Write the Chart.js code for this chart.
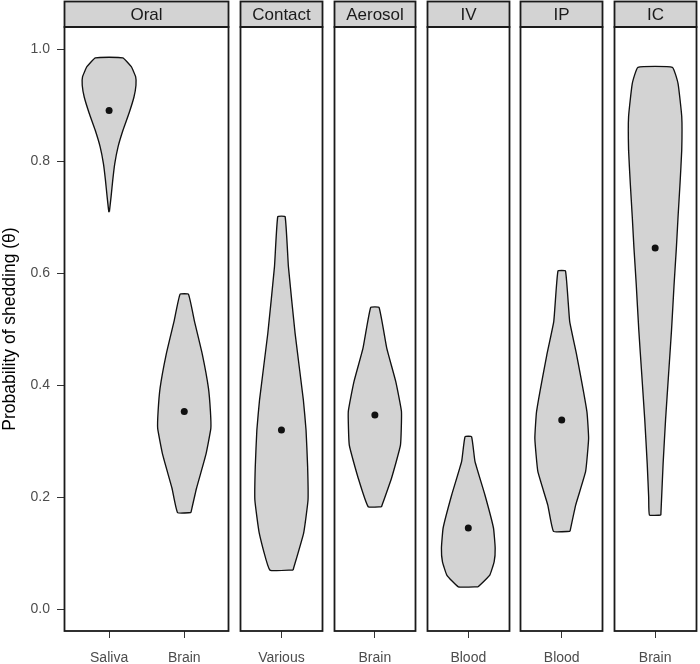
<!DOCTYPE html>
<html>
<head>
<meta charset="utf-8">
<script src="https://cdn.jsdelivr.net/npm/chart.js@4.4.1/dist/chart.umd.min.js"></script>
<style>
  body { margin: 0; background: #fff; }
  canvas { display: block; }
</style>
</head>
<body>
<canvas id="chart" width="700" height="664"></canvas>
<script>
// --- data ---
const panelNames = ['Oral', 'Contact', 'Aerosol', 'IV', 'IP', 'IC'];
const categories = ['Saliva', 'Brain', 'Various', 'Brain', 'Blood', 'Blood', 'Brain'];
const categoryPanel = [0, 0, 1, 2, 3, 4, 5];
const medians = [0.891, 0.353, 0.320, 0.347, 0.145, 0.338, 0.645];
const yTicks = [0.0, 0.2, 0.4, 0.6, 0.8, 1.0];

// violin outlines: y levels and relative width (density) at each level
const salivaY = [0.710, 0.737, 0.767, 0.796, 0.826, 0.856, 0.886, 0.915, 0.936, 0.951, 0.969, 0.985];
const salivaW = [0.011, 0.074, 0.137, 0.211, 0.333, 0.519, 0.741, 0.926, 1.000, 0.989, 0.826, 0.507];
const oralBrainY = [0.1725, 0.216, 0.276, 0.323, 0.353, 0.395, 0.454, 0.514, 0.5625];
const oralBrainW = [0.248, 0.456, 0.804, 0.989, 0.974, 0.900, 0.678, 0.381, 0.156];
const variousY = [0.070, 0.136, 0.195, 0.255, 0.320, 0.374, 0.493, 0.612, 0.701];
const variousW = [0.433, 0.826, 0.989, 0.974, 0.915, 0.815, 0.507, 0.259, 0.137];
const aerosolY = [0.183, 0.234, 0.293, 0.353, 0.4065, 0.466, 0.539];
const aerosolW = [0.248, 0.619, 0.952, 0.989, 0.778, 0.444, 0.156];
const ivY = [0.040, 0.061, 0.085, 0.109, 0.145, 0.204, 0.264, 0.308];
const ivW = [0.370, 0.800, 0.963, 1.000, 0.937, 0.619, 0.248, 0.122];
const ipY = [0.139, 0.186, 0.246, 0.305, 0.353, 0.454, 0.514, 0.604];
const ipW = [0.307, 0.519, 0.889, 1.000, 0.937, 0.556, 0.296, 0.141];
const icY = [0.168, 0.200, 0.260, 0.340, 0.420, 0.500, 0.580, 0.645, 0.701, 0.761, 0.820, 0.880, 0.939, 0.968];
const icW = [0.211, 0.241, 0.296, 0.389, 0.500, 0.611, 0.704, 0.789, 0.852, 0.926, 0.989, 0.989, 0.852, 0.641];

const violinY = [salivaY, oralBrainY, variousY, aerosolY, ivY, ipY, icY];
const violinW = [salivaW, oralBrainW, variousW, aerosolW, ivW, ipW, icW];

// --- facet layout (x units: one single-category panel = 1) ---
const panelGap = 0.13;
const maxHalfWidth = 0.325;
const panels = [];
let cursor = 0;
panelNames.forEach((name, p) => {
  const n = categoryPanel.filter(c => c === p).length;
  panels.push({ name, start: cursor, end: cursor + n, n });
  cursor += n + panelGap;
});
const xMax = cursor - panelGap;

const centers = categories.map((c, i) => {
  const p = panels[categoryPanel[i]];
  const k = categoryPanel.slice(0, i).filter(q => q === categoryPanel[i]).length;
  return p.start + (k + 0.6) / (p.n + 0.2) * p.n;
});

function violinPoints(i) {
  const cx = centers[i];
  const ys = violinY[i], ws = violinW[i];
  const right = ys.map((y, j) => ({ x: cx + ws[j] * maxHalfWidth, y }));
  const left = ys.map((y, j) => ({ x: cx - ws[j] * maxHalfWidth, y })).reverse();
  const pts = right.concat(left);
  pts.push(right[0]);
  return pts;
}

const datasets = [{
  label: 'median',
  order: 0,
  data: medians.map((m, i) => ({ x: centers[i], y: m })),
  showLine: false,
  pointRadius: 3.5,
  pointBackgroundColor: '#111',
  pointBorderWidth: 0,
  pointHoverRadius: 3.5
}];

categories.forEach((c, i) => datasets.push({
  label: c,
  order: 1,
  data: violinPoints(i),
  showLine: true,
  fill: 'shape',
  backgroundColor: '#d3d3d3',
  borderColor: '#111',
  borderWidth: 1.35,
  tension: 0.12,
  pointRadius: 0,
  pointHoverRadius: 0
}));

const panelPlugin = {
  id: 'panels',
  beforeDraw(chart) {
    const ctx = chart.ctx;
    ctx.save();
    ctx.fillStyle = '#fff';
    ctx.fillRect(0, 0, chart.width, chart.height);
    ctx.restore();
  },
  afterDatasetsDraw(chart) {
    const { ctx, chartArea, scales: { x } } = chart;
    ctx.save();
    ctx.lineWidth = 1.8;
    ctx.strokeStyle = '#1a1a1a';
    panels.forEach(p => {
      const l = Math.round(x.getPixelForValue(p.start)) + 0.5;
      const r = Math.round(x.getPixelForValue(p.end)) - 0.5;
      const stripTop = 1.5;
      ctx.fillStyle = '#d3d3d3';
      ctx.fillRect(l, stripTop, r - l, chartArea.top - stripTop);
      ctx.strokeRect(l, stripTop, r - l, chartArea.top - stripTop);
      ctx.strokeRect(l, chartArea.top, r - l, chartArea.bottom - chartArea.top);
      ctx.fillStyle = '#1a1a1a';
      ctx.font = '17px "Liberation Sans", Arial, sans-serif';
      ctx.textAlign = 'center';
      ctx.textBaseline = 'middle';
      ctx.fillText(p.name, (l + r) / 2, (stripTop + chartArea.top) / 2 + 1);
    });
    ctx.restore();
  }
};

const tickFont = { family: '"Liberation Sans", Arial, sans-serif', size: 14 };

new Chart(document.getElementById('chart'), {
  type: 'scatter',
  data: { datasets },
  options: {
    responsive: false,
    animation: false,
    devicePixelRatio: 1,
    layout: { padding: { left: 0, right: 1, top: 27, bottom: 0 } },
    plugins: { legend: { display: false }, tooltip: { enabled: false } },
    scales: {
      x: {
        type: 'linear',
        min: 0,
        max: xMax,
        afterBuildTicks: s => { s.ticks = centers.map(v => ({ value: v })); },
        afterFit: s => { s.height = 33; },
        ticks: {
          autoSkip: false,
          maxRotation: 0,
          padding: 12,
          color: '#4d4d4d',
          font: tickFont,
          callback: (v, i) => categories[i]
        },
        grid: { drawOnChartArea: false, drawTicks: true, tickLength: 7, color: '#333', lineWidth: 1 },
        border: { display: false }
      },
      y: {
        type: 'linear',
        min: -0.039,
        max: 1.04,
        afterBuildTicks: s => { s.ticks = yTicks.map(v => ({ value: v })); },
        afterFit: s => { s.width = 64; },
        ticks: {
          padding: 7,
          color: '#4d4d4d',
          font: tickFont,
          callback: v => v.toFixed(1)
        },
        grid: { drawOnChartArea: false, drawTicks: true, tickLength: 7, color: '#333', lineWidth: 1 },
        border: { display: false },
        title: {
          display: true,
          text: 'Probability of shedding (θ)',
          color: '#000',
          font: { family: '"Liberation Sans", Arial, sans-serif', size: 17.5 },
          padding: { top: 0, bottom: 0 }
        }
      }
    }
  },
  plugins: [panelPlugin]
});
</script>
</body>
</html>
